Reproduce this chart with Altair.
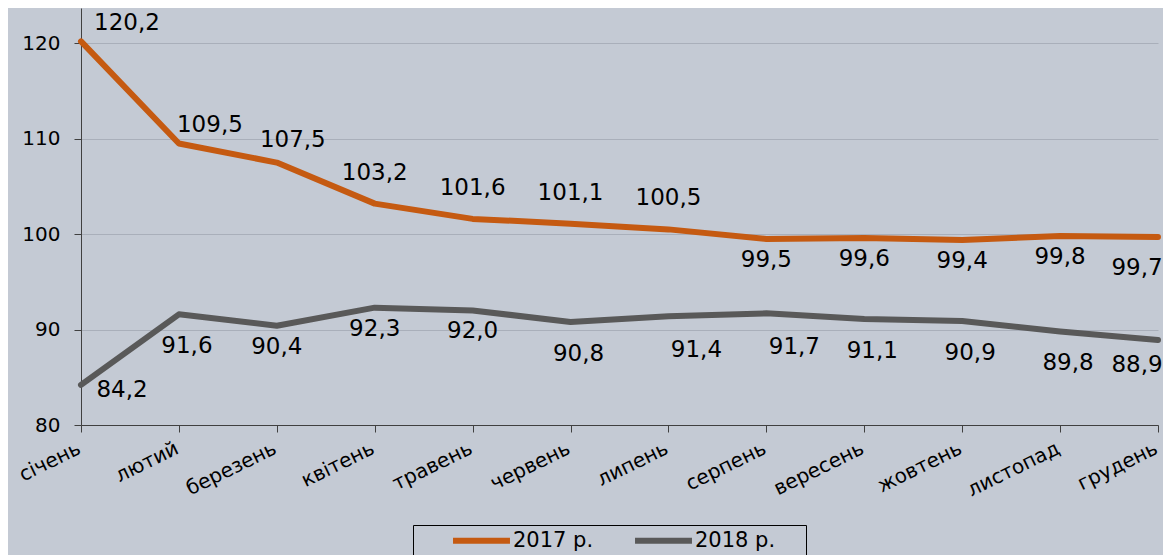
import altair as alt
import pandas as pd

months = ["січень", "лютий", "березень", "квітень", "травень", "червень",
          "липень", "серпень", "вересень", "жовтень", "листопад", "грудень"]
v2017 = [120.2, 109.5, 107.5, 103.2, 101.6, 101.1, 100.5, 99.5, 99.6, 99.4, 99.8, 99.7]
v2018 = [84.2, 91.6, 90.4, 92.3, 92.0, 90.8, 91.4, 91.7, 91.1, 90.9, 89.8, 88.9]
series = ["2017 р.", "2018 р."]
colors = ["#c55a11", "#595959"]

# label placement codes (style), mapped to pixel offsets below
place2017 = ["r", "ur1", "ur2", "u", "u", "u", "u", "d", "d", "d", "d", "dl"]
place2018 = ["r2", "dd", "d", "d", "d", "dd", "ddr", "ddr", "dd", "dd", "dd", "dl2"]
offsets = {
    "r": (46, -18), "ur1": (31, -19), "ur2": (16, -23), "u": (0, -31),
    "d": (0, 21), "dl": (-21, 31), "r2": (41, 5), "dd": (8, 32),
    "ddr": (28, 34), "dl2": (-21, 25),
}

rows = []
for s, vals, places in [(series[0], v2017, place2017), (series[1], v2018, place2018)]:
    for m, v, p in zip(months, vals, places):
        rows.append({"month": m, "value": v, "series": s, "place": p,
                     "label": f"{v:.1f}".replace(".", ",")})
df = pd.DataFrame(rows)

FONT = "DejaVu Sans"
pad = "\u00a0" * 4 + "\u200b"

x_enc = alt.X("month:N", sort=months,
              scale=alt.Scale(type="point", padding=0),
              axis=alt.Axis(title=None, labelAngle=-26, labelAlign="right",
                            labelBaseline="middle", labelFontSize=20, labelPadding=15,
                            labelOffset=-2,
                            tickSize=7, labelColor="#000000", domainColor="#404040",
                            tickColor="#404040", grid=False))
y_enc = alt.Y("value:Q",
              scale=alt.Scale(domain=[80, 123.7], nice=False, zero=False),
              axis=alt.Axis(title=None, values=[80, 90, 100, 110, 120],
                            labelFontSize=20, labelPadding=14, tickSize=7,
                            labelColor="#000000", domainColor="#404040",
                            tickColor="#404040", grid=True, gridColor="#a9afba",
                            gridWidth=1.2))

base = alt.Chart(df)

lines = base.mark_line(strokeWidth=6, strokeCap="round", strokeJoin="round").encode(
    x=x_enc, y=y_enc,
    color=alt.Color("series:N",
                    scale=alt.Scale(domain=series, range=colors),
                    legend=alt.Legend(
                        title=None, orient="none", legendX=332, legendY=517,
                        direction="horizontal", strokeColor="#000000", padding=4,
                        symbolType="M-3.35,0H3.35", symbolSize=289,
                        symbolStrokeWidth=6, symbolOffset=53,
                        labelFontSize=21, labelColor="#000000", labelOffset=20,
                        columnPadding=5,
                        labelExpr="datum.label == '" + series[1] + "' ? datum.label + '"
                                  + pad + "' : datum.label")),
)

layers = [lines]
for code, (dx, dy) in offsets.items():
    layers.append(
        base.transform_filter(alt.datum.place == code)
        .mark_text(fontSize=23, color="#000000", dx=dx, dy=dy,
                   align="center", baseline="middle")
        .encode(x=alt.X("month:N", sort=months), y="value:Q", text="label:N")
    )

chart = alt.layer(*layers).properties(
    width=1077, height=417,
    autosize=alt.AutoSizeParams(type="none"),
    padding={"left": 73, "top": 0, "right": 5, "bottom": 130},
    background="#c4cad4",
).configure(font=FONT).configure_view(strokeWidth=0)

chart.save("out.html", embed_options={"renderer": "svg", "actions": False})
